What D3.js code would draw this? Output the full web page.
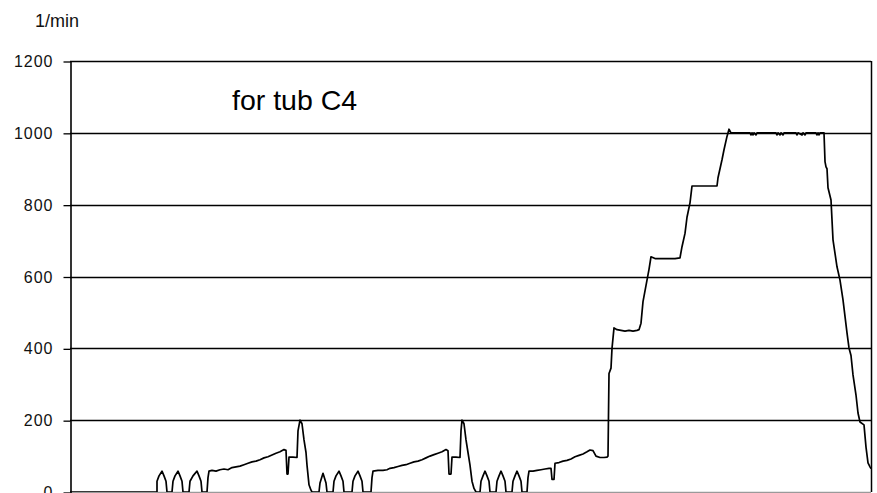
<!DOCTYPE html>
<html>
<head>
<meta charset="utf-8">
<script src="https://cdn.jsdelivr.net/npm/d3@7/dist/d3.min.js"></script>
<style>
  html, body { margin: 0; padding: 0; background: #fff; }
  svg { display: block; font-family: "Liberation Sans", Arial, sans-serif; }
</style>
</head>
<body>
<svg id="chart" width="877" height="493"></svg>
<script>
// Drum speed over the run (1/min), sampled against elapsed time units.
const time = [
  0, 86,
  87, 87, 89, 92, 94, 96, 97,
  102, 103, 105, 108, 110, 112, 113,
  119, 120, 123, 127, 129, 131, 132,
  137, 138, 139, 142, 146, 150, 154, 158, 162, 166, 170, 174, 178, 182, 186, 190, 194, 198, 202, 206, 210, 214,
  216, 217, 218, 219, 223, 227, 228, 230, 232, 234, 236, 237, 239, 241, 242,
  249, 250, 253, 256, 257,
  263, 264, 266, 269, 271, 273, 274,
  282, 283, 285, 288, 290, 292, 293,
  301, 302, 303, 308, 313, 317, 320, 324, 328, 332, 336, 340, 344, 348, 352, 356, 360, 364, 368, 372, 376,
  378, 379, 381, 382, 386, 390, 391, 392, 394, 396, 398, 400, 402, 404, 406,
  410, 411, 413, 415, 417, 419, 420,
  426, 427, 429, 431, 433, 435, 436,
  442, 443, 445, 447, 449, 451, 452,
  457, 458, 459, 463, 467, 471, 475, 479, 481, 482, 484, 485, 489, 493, 497, 501, 505, 509, 513, 517, 520,
  523, 526, 530, 534, 537, 538, 539, 541, 542, 544, 547, 551, 555, 559, 563, 567, 569,
  571, 573, 575, 577, 579, 581, 585, 595, 605, 610,
  612, 615, 617, 620, 622, 647,
  648, 652, 654, 657, 659, 661,
  680, 681, 682, 683, 684, 686, 687, 706, 707, 708, 710, 711, 713, 714,
  726, 727, 728, 732, 733, 735, 736, 746, 747, 748, 749, 750, 754,
  755, 756, 757, 758, 761, 763, 767, 770, 773, 777, 779, 781, 783, 786, 788, 790, 794, 796, 798, 800, 801
];
const speed = [
  0, 0,
  0, 30, 45, 58, 45, 30, 0,
  0, 30, 45, 58, 45, 30, 0,
  0, 30, 45, 58, 45, 30, 0,
  0, 40, 58, 60, 58, 62, 64, 62, 68, 70, 72, 76, 80, 84, 86, 90, 95, 98, 103, 108, 112, 118,
  116, 50, 50, 97, 97, 96, 170, 200, 190, 145, 110, 75, 20, 5, 0,
  0, 25, 52, 25, 0,
  0, 30, 45, 58, 45, 30, 0,
  0, 30, 45, 58, 45, 30, 0,
  0, 40, 58, 60, 60, 62, 66, 68, 71, 74, 76, 80, 84, 86, 90, 95, 100, 104, 108, 112, 118,
  115, 50, 50, 97, 97, 96, 170, 200, 190, 145, 110, 75, 30, 10, 0,
  0, 30, 45, 58, 45, 30, 0,
  0, 30, 45, 58, 45, 30, 0,
  0, 30, 45, 58, 45, 30, 0,
  0, 40, 58, 58, 60, 62, 64, 66, 66, 35, 35, 80, 82, 86, 88, 92, 98, 102, 106, 112, 117,
  115, 100, 96, 96, 97, 100, 330, 345, 400, 457, 452, 450, 448, 450, 448, 450, 452,
  470, 530, 560, 590, 620, 655, 650, 650, 650, 652,
  683, 720, 765, 805, 852, 852,
  875, 925, 953, 990, 1010, 1000,
  1000, 994, 1000, 994, 1000, 994, 1000, 1000, 994, 1000, 994, 1000, 994, 1000,
  1000, 994, 1000, 994, 1000, 994, 1000, 1000, 994, 1000, 994, 1000, 1000,
  920, 905, 900, 847, 813, 702, 627, 590, 535, 443, 401, 380, 326, 270, 220, 195, 187, 125, 81, 70, 65
];
const yTicks = [0, 200, 400, 600, 800, 1000, 1200];
const unitLabel = "1/min";
const titleLabel = "for tub C4";

const svg = d3.select("#chart");
const plotLeft = 70, plotRight = 871, plotTop = 61, plotBottom = 492;

const x = d3.scaleLinear().domain([0, 801]).range([plotLeft, plotRight]);
const y = d3.scaleLinear().domain([0, 1200]).range([plotBottom, plotTop]);

// horizontal gridlines across the plot
svg.append("g")
  .selectAll("line")
  .data(yTicks)
  .join("line")
  .attr("x1", plotLeft).attr("x2", plotRight)
  .attr("y1", d => Math.round(y(d)) + 0.5)
  .attr("y2", d => Math.round(y(d)) + 0.5)
  .attr("stroke", d => d === 0 ? "#9a9a9a" : "#000")
  .attr("stroke-width", 1.3);

// right border
svg.append("line")
  .attr("x1", plotRight + 0.5).attr("x2", plotRight + 0.5)
  .attr("y1", y(1200)).attr("y2", plotBottom)
  .attr("stroke", "#000").attr("stroke-width", 1.5);

// value axis with outward ticks
const yAxis = svg.append("g")
  .attr("transform", `translate(${plotLeft + 0.5},0.5)`)
  .call(d3.axisLeft(y).tickValues(yTicks).tickFormat(d3.format("d"))
    .tickSize(7).tickPadding(10).tickSizeOuter(0));
yAxis.select(".domain").attr("stroke", "#000").attr("stroke-width", 1.6);
yAxis.selectAll(".tick line").attr("stroke", "#000").attr("stroke-width", 1.3);
yAxis.selectAll(".tick text")
  .attr("fill", "#111")
  .style("font-size", "16px")
  .style("letter-spacing", "1px")
  .style("font-family", "'Liberation Sans', Arial, sans-serif");

// unit label above the axis
svg.append("text")
  .attr("x", 35).attr("y", 27)
  .attr("fill", "#111")
  .style("font-size", "18px")
  .text(unitLabel);

// chart caption inside the plot
svg.append("text")
  .attr("x", 232).attr("y", 110)
  .attr("fill", "#000")
  .style("font-size", "28.5px")
  .text(titleLabel);

// speed trace
svg.append("clipPath").attr("id", "plotClip")
  .append("rect").attr("x", plotLeft).attr("y", plotTop - 2).attr("width", plotRight - plotLeft).attr("height", plotBottom - plotTop + 2);

const points = time.map((t, i) => [t, speed[i]]);
svg.append("path")
  .datum(points)
  .attr("clip-path", "url(#plotClip)")
  .attr("fill", "none")
  .attr("stroke", "#000")
  .attr("stroke-width", 1.7)
  .attr("stroke-linejoin", "round")
  .attr("d", d3.line().x(d => x(d[0])).y(d => y(d[1])));
</script>
</body>
</html>
